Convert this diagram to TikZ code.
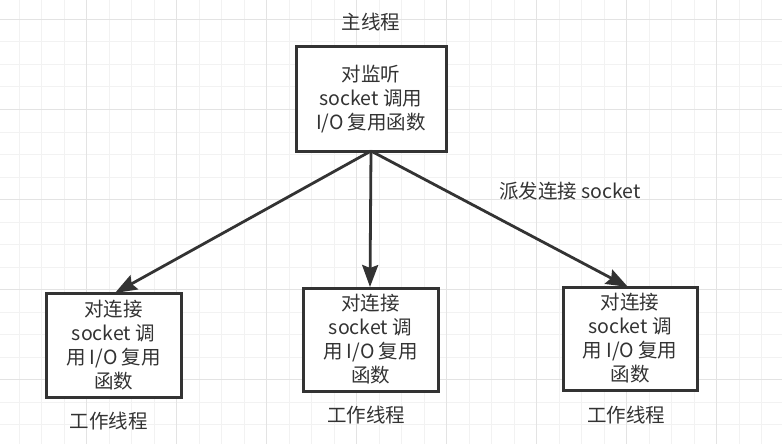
\documentclass[tikz,border=0pt]{standalone}
\usepackage{fontspec}
\setmainfont{Noto Sans CJK SC}
\usetikzlibrary{arrows.meta}
\definecolor{ink}{HTML}{333333}
\definecolor{gridlight}{HTML}{F2F2F2}
\definecolor{griddark}{HTML}{E3E3E3}
\begin{document}
\begin{tikzpicture}[x=1pt,y=-1pt,
  box/.style={draw=ink, line width=3pt, fill=white, align=center, text=ink,
    font=\fontsize{19.5}{24}\selectfont, inner sep=0pt},
  lbl/.style={text=ink, font=\fontsize{19.5}{24}\selectfont, inner sep=0pt},
  arr/.style={draw=ink, line width=2.8pt, -{Stealth[length=22pt,width=16pt,inset=3pt]}}]
\useasboundingbox (0,0) rectangle (782,444);
\fill[white] (0,0) rectangle (782,444);
\foreach \i in {0,...,34} {
  \draw[gridlight, line width=1pt] ({19.4+22.5*\i},0) -- ({19.4+22.5*\i},444);
}
\foreach \i in {0,...,19} {
  \draw[gridlight, line width=1pt] (0,{19.5+22.5*\i}) -- (782,{19.5+22.5*\i});
}
\foreach \i in {0,...,8} {
  \draw[griddark, line width=1pt] ({86.9+90*\i},0) -- ({86.9+90*\i},444);
}
\foreach \i in {0,...,4} {
  \draw[griddark, line width=1pt] (0,{19.5+90*\i}) -- (782,{19.5+90*\i});
}
\node[box, minimum width=150pt, minimum height=104pt] (main) at (371,99)
  {对监听\\socket 调用\\I/O 复用函数};
\node[box, minimum width=135pt, minimum height=104pt] (w1) at (113.5,345)
  {对连接\\socket 调\\用 I/O 复用\\函数};
\node[box, minimum width=135pt, minimum height=103pt] (w2) at (370.5,339.5)
  {对连接\\socket 调\\用 I/O 复用\\函数};
\node[box, minimum width=134pt, minimum height=103pt] (w3) at (630,338.5)
  {对连接\\socket 调\\用 I/O 复用\\函数};
\node[lbl] (tmain) at (371,22) {主线程};
\node[lbl] (t1) at (108.5,421) {工作线程};
\node[lbl] (t2) at (366,415) {工作线程};
\node[lbl] (t3) at (626,415) {工作线程};
\node[lbl] (disp) at (570,191) {派发连接 socket};
\coordinate (s) at (371,151);
\coordinate (e1) at (115,293);
\coordinate (e2) at (370,287);
\coordinate (e3) at (628,287);
\draw[arr] (s) -- (e1);
\draw[arr] (s) -- (e2);
\draw[arr] (s) -- (e3);
\end{tikzpicture}
\end{document}
